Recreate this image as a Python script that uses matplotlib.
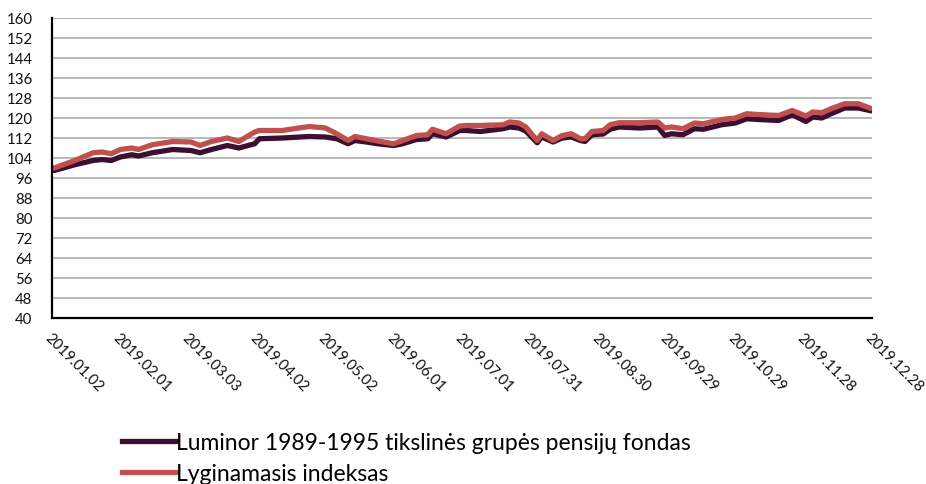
import numpy as np
import pandas as pd
import matplotlib
matplotlib.use("Agg")
import matplotlib.pyplot as plt
import matplotlib.dates as mdates

# values (approximate)
dates = [
    "2019-01-02", "2019-01-03", "2019-01-12", "2019-01-20", "2019-01-24", "2019-01-28",
    "2019-02-01", "2019-02-06", "2019-02-09", "2019-02-15", "2019-02-24", "2019-03-04",
    "2019-03-08", "2019-03-13", "2019-03-20", "2019-03-25", "2019-04-01", "2019-04-03",
    "2019-04-13", "2019-04-25", "2019-05-02", "2019-05-07", "2019-05-12", "2019-05-15",
    "2019-05-20", "2019-05-25", "2019-06-01", "2019-06-05", "2019-06-11", "2019-06-16",
    "2019-06-18", "2019-06-24", "2019-06-30", "2019-07-03", "2019-07-09", "2019-07-19",
    "2019-07-22", "2019-07-26", "2019-07-29", "2019-08-03", "2019-08-05", "2019-08-10",
    "2019-08-14", "2019-08-18", "2019-08-22", "2019-08-24", "2019-08-27", "2019-09-01",
    "2019-09-04", "2019-09-08", "2019-09-17", "2019-09-25", "2019-09-28", "2019-10-01",
    "2019-10-06", "2019-10-11", "2019-10-15", "2019-10-23", "2019-10-29", "2019-11-03",
    "2019-11-08", "2019-11-17", "2019-11-23", "2019-11-29", "2019-12-02", "2019-12-06",
    "2019-12-10", "2019-12-16", "2019-12-22", "2019-12-27",
]

fund = [
    100.0, 99.0, 101.3, 103.0, 103.4, 103.0,
    104.4, 105.3, 104.8, 106.1, 107.4, 107.0,
    106.1, 107.4, 109.0, 108.0, 109.7, 111.7,
    112.0, 112.6, 112.4, 111.7, 109.7, 111.0,
    110.4, 109.7, 109.0, 109.7, 111.4, 111.7,
    113.7, 112.4, 115.0, 115.0, 114.6, 115.7,
    116.4, 116.0, 114.8, 110.1, 112.4, 110.4,
    112.0, 112.4, 111.0, 110.6, 113.3, 113.6,
    115.5, 116.4, 116.0, 116.4, 113.0, 113.7,
    113.3, 115.7, 115.5, 117.3, 118.0, 119.7,
    119.4, 119.0, 121.3, 118.6, 120.4, 120.0,
    121.7, 124.0, 124.0, 123.0,
]

index = [
    100.0, 100.0, 103.0, 106.1, 106.4, 105.7,
    107.4, 108.0, 107.4, 109.3, 110.6, 110.4,
    109.0, 110.6, 112.0, 110.6, 114.4, 115.0,
    115.0, 116.6, 116.0, 113.7, 111.0, 112.6,
    111.7, 110.8, 109.7, 111.0, 113.0, 113.3,
    115.5, 113.7, 116.8, 117.0, 117.0, 117.3,
    118.4, 118.0, 116.4, 111.0, 113.7, 111.0,
    113.0, 113.7, 111.7, 111.7, 114.6, 115.0,
    117.3, 118.1, 118.1, 118.4, 116.0, 116.4,
    115.7, 118.0, 117.7, 119.4, 120.0, 121.7,
    121.4, 121.0, 123.0, 120.8, 122.4, 122.1,
    123.7, 125.7, 125.7, 124.0,
]

tick_dates = ["2019-01-02", "2019-02-01", "2019-03-03", "2019-04-02", "2019-05-02",
              "2019-06-01", "2019-07-01", "2019-07-31", "2019-08-30", "2019-09-29",
              "2019-10-29", "2019-11-28", "2019-12-28"]

plt.rcParams['font.family'] = ['Lato', 'DejaVu Sans']

x = pd.to_datetime(dates)
ticks = pd.to_datetime(tick_dates)

fig = plt.figure(figsize=(9.26, 4.85), dpi=100)
ax = fig.add_axes([52 / 926, 1 - 319 / 485, 820 / 926, 300 / 485])

ax.plot(x, fund, color="#3c0f30", lw=3.8, solid_joinstyle="round",
        label="Luminor 1989-1995 tikslinės grupės pensijų fondas")
ax.plot(x, index, color="#c0504d", lw=3.8, solid_joinstyle="round",
        label="Lyginamasis indeksas")

ax.set_ylim(40, 160)
ax.set_yticks(np.arange(40, 161, 8))
ax.set_xlim(ticks[0], ticks[-1])
ax.set_xticks(ticks)
ax.xaxis.set_major_formatter(mdates.DateFormatter("%Y.%m.%d"))

ax.grid(axis="y", color="#b3b3b3", lw=1.3)
ax.set_axisbelow(True)
for s in ["top", "right"]:
    ax.spines[s].set_visible(False)
for s in ["left", "bottom"]:
    ax.spines[s].set_color("black")
    ax.spines[s].set_linewidth(1.6)

ax.tick_params(axis="y", length=0, pad=14, labelsize=10.8, labelcolor="#111111")
ax.tick_params(axis="x", length=0, pad=9, labelsize=10.7, labelcolor="#111111")
for lab in ax.get_xticklabels():
    lab.set_rotation(-45)
    lab.set_ha("left")
    lab.set_va("top")
    lab.set_rotation_mode("anchor")

fig.legend(loc="upper left", bbox_to_anchor=(113 / 926, 1 - 424 / 485),
           frameon=False, fontsize=16.5, handlelength=2.35, handletextpad=0.02,
           labelspacing=0.42, borderaxespad=0)

fig.savefig("out.png", dpi=100)
